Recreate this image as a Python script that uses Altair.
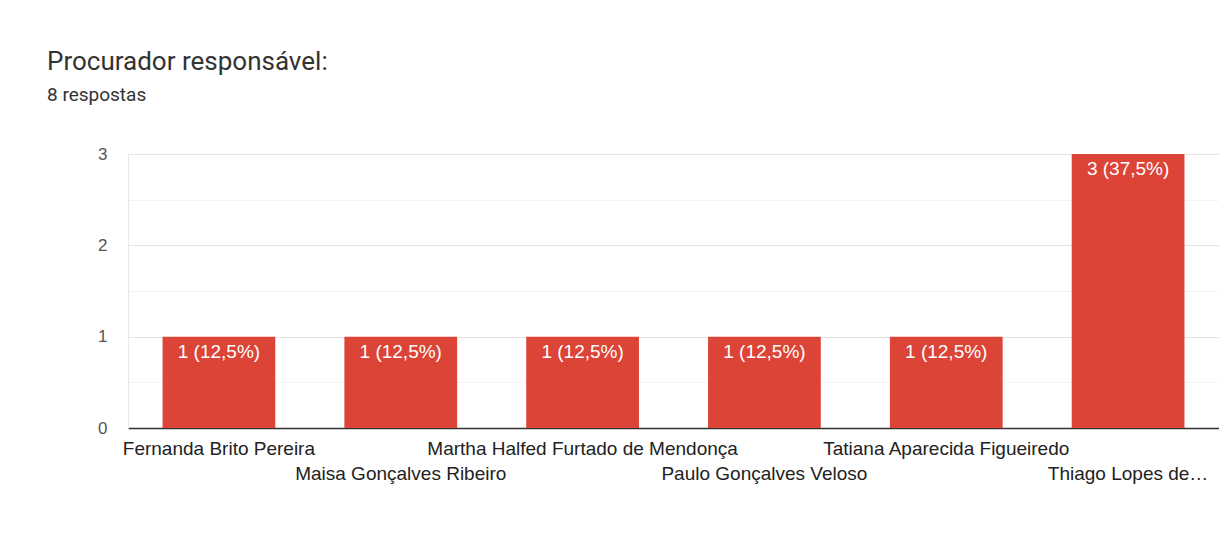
import altair as alt
import pandas as pd

names = [
    "Fernanda Brito Pereira",
    "Maisa Gonçalves Ribeiro",
    "Martha Halfed Furtado de Mendonça",
    "Paulo Gonçalves Veloso",
    "Tatiana Aparecida Figueiredo",
    "Thiago Lopes de…",
]
counts = [1, 1, 1, 1, 1, 3]
percents = ["12,5%", "12,5%", "12,5%", "12,5%", "12,5%", "37,5%"]
label_rows = [0, 1, 0, 1, 0, 1]
y_ticks = [0, 0.5, 1, 1.5, 2, 2.5, 3]

df = pd.DataFrame({"name": names, "count": counts, "pct": percents, "row": label_rows})
df["label"] = [f"{c} ({p})" for c, p in zip(counts, percents)]

W, H = 1091, 274
RED = "#db4437"

x_enc = alt.X(
    "name:N",
    sort=names,
    scale=alt.Scale(paddingInner=0.38, paddingOuter=0.19),
    axis=alt.Axis(labels=False, ticks=False, title=None, domain=True,
                  domainColor="#333333", domainWidth=1.5),
)
y_enc = alt.Y(
    "count:Q",
    scale=alt.Scale(domain=[0, 3], nice=False),
    axis=alt.Axis(
        values=y_ticks,
        labelExpr="datum.value % 1 == 0 ? format(datum.value, 'd') : ''",
        grid=True,
        gridColor={"condition": {"test": "datum.value % 1 != 0", "value": "#f4f4f4"}, "value": "#e4e4e4"},
        domain=True,
        domainColor="#e8e8e8",
        ticks=False,
        labelPadding=21,
        labelFontSize=17,
        labelColor="#555555",
        labelFont="Liberation Sans",
        title=None,
    ),
)

base = alt.Chart(df)

bars = base.mark_bar(color=RED).encode(x=x_enc, y=y_enc)

bar_text = base.mark_text(
    baseline="top", dy=6, color="white", fontSize=19, font="Liberation Sans"
).encode(x=alt.X("name:N", sort=names), y=alt.Y("count:Q"), text="label:N")

row0 = base.transform_filter("datum.row == 0").mark_text(
    baseline="middle", fontSize=19, font="Liberation Sans", color="#222222"
).encode(x=alt.X("name:N", sort=names), y=alt.value(H + 21), text="name:N")

row1 = base.transform_filter("datum.row == 1").mark_text(
    baseline="middle", fontSize=19, font="Liberation Sans", color="#222222"
).encode(x=alt.X("name:N", sort=names), y=alt.value(H + 46), text="name:N")

chart = (
    alt.layer(bars, bar_text, row0, row1)
    .properties(
        width=W,
        height=H,
        autosize=alt.AutoSizeParams(type="none"),
        padding={"left": 120, "top": 146, "right": 0, "bottom": 103},
        title=alt.TitleParams(
            text="Procurador responsável:",
            subtitle="8 respostas",
            anchor="start",
            frame="group",
            dx=-81,
            offset=40,
            font="Roboto",
            fontSize=26,
            fontWeight="normal",
            color="#333333",
            subtitleFont="Roboto",
            subtitleFontSize=19,
            subtitleColor="#333333",
            subtitlePadding=11,
        ),
        background="white",
    )
    .configure_view(stroke=None)
)

chart.save("out.html", embed_options={"renderer": "svg", "actions": False})
